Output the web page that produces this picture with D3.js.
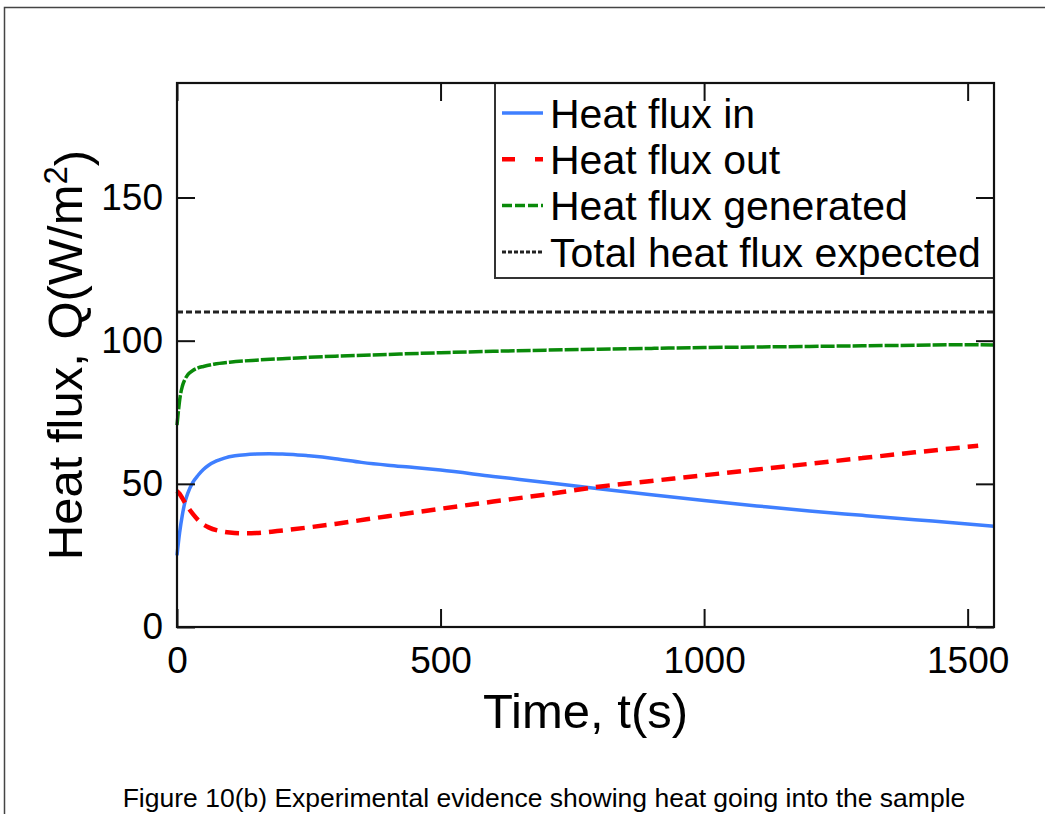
<!DOCTYPE html>
<html>
<head>
<meta charset="utf-8">
<script src="https://cdn.jsdelivr.net/npm/d3@7"></script>
<style>
  body { margin: 0; background: #fff; }
  text { font-family: 'Liberation Sans', Arial, sans-serif; fill: #000; }
</style>
</head>
<body>
<div id="myPlot"></div>
<script>
// values
const tIn = [0, 5, 10, 15, 20, 30, 40, 50, 60, 75, 90, 110, 130, 150, 175, 200, 225, 250, 300, 350, 400, 450, 500, 600, 700, 800, 900, 1000, 1100, 1200, 1300, 1400, 1500, 1550];
const fluxIn = [25, 33, 39, 43.5, 46.5, 50.5, 53, 55, 56.5, 58, 59, 59.8, 60.2, 60.4, 60.5, 60.4, 60.2, 59.8, 58.8, 57.5, 56.5, 55.7, 54.8, 52.6, 50.5, 48.3, 46.2, 44.2, 42.3, 40.5, 39, 37.5, 36, 35.2];

const tOut = [0, 5, 10, 20, 30, 45, 60, 80, 100, 125, 150, 190, 250, 300, 400, 500, 600, 700, 800, 900, 1000, 1100, 1200, 1300, 1400, 1520];
const fluxOut = [47.5, 46.5, 45, 42, 39.5, 36.5, 34.8, 33.6, 33, 32.7, 32.8, 33.5, 34.8, 36, 38.7, 41.3, 43.8, 46.3, 49, 51, 53, 55, 57, 59, 61, 63.3];

const tGen = [0, 3, 6, 10, 15, 20, 30, 40, 50, 70, 100, 150, 200, 300, 400, 500, 600, 700, 800, 900, 1000, 1100, 1200, 1300, 1400, 1500, 1550];
const fluxGen = [70.5, 76, 80.5, 84, 86.5, 88, 89.6, 90.5, 91, 91.8, 92.5, 93.2, 93.7, 94.6, 95.2, 95.8, 96.3, 96.7, 97.0, 97.3, 97.6, 97.8, 98.0, 98.2, 98.4, 98.6, 98.5];

const tExp = [0, 1550];
const fluxExp = [110, 110];

const xTicks = [0, 500, 1000, 1500];
const yTicks = [0, 50, 100, 150];

const seriesNames = ['Heat flux in', 'Heat flux out', 'Heat flux generated', 'Total heat flux expected'];
const caption = 'Figure 10(b) Experimental evidence showing heat going into the sample';

const W = 1045, H = 814;
const margin = {top: 83, right: 51, bottom: 187, left: 177};
const width = W - margin.left - margin.right;
const height = H - margin.top - margin.bottom;

const svgRoot = d3.select('#myPlot')
  .append('svg')
    .attr('width', W)
    .attr('height', H);

// page frame
svgRoot.append('rect')
  .attr('x', 4.5).attr('y', 7.5)
  .attr('width', W + 20).attr('height', H + 20)
  .attr('fill', 'none')
  .attr('stroke', '#444')
  .attr('stroke-width', 1.5);

const svg = svgRoot.append('g')
  .attr('transform', 'translate(' + margin.left + ',' + margin.top + ')');

const x = d3.scaleLinear().domain([0, 1550]).range([0, width]);
const y = d3.scaleLinear().domain([0, 190]).range([height, 0]);

const series = [
  {name: seriesNames[0], t: tIn, v: fluxIn, color: '#3f7fff', dash: null, w: 3.5},
  {name: seriesNames[1], t: tOut, v: fluxOut, color: '#ff0000', dash: '14,8', w: 4.5},
  {name: seriesNames[2], t: tGen, v: fluxGen, color: '#0a8a0a', dash: '14,2', w: 3.5},
  {name: seriesNames[3], t: tExp, v: fluxExp, color: '#222', dash: '6,3', w: 3}
];

const line = d3.line()
  .x(d => x(d[0]))
  .y(d => y(d[1]))
  .curve(d3.curveMonotoneX);

svg.selectAll('path.series')
  .data(series)
  .enter()
  .append('path')
    .attr('class', 'series')
    .attr('d', s => line(s.t.map((t, i) => [t, s.v[i]])))
    .attr('fill', 'none')
    .attr('stroke', s => s.color)
    .attr('stroke-width', s => s.w)
    .attr('stroke-dasharray', s => s.dash);

// Legend
const leg = svg.append('g')
  .attr('transform', 'translate(' + (495 - margin.left) + ',0)');
leg.append('rect')
  .attr('x', 0).attr('y', 0)
  .attr('width', 994 - 495).attr('height', 278 - 83)
  .attr('fill', '#fff')
  .attr('stroke', '#333')
  .attr('stroke-width', 2);

const rows = leg.selectAll('g.row')
  .data(series)
  .enter()
  .append('g')
    .attr('class', 'row')
    .attr('transform', (d, i) => 'translate(0,' + (30 + i * 46.3) + ')');
rows.append('line')
  .attr('x1', 7).attr('x2', 48)
  .attr('stroke', d => d.color)
  .attr('stroke-width', d => d.w)
  .attr('stroke-dasharray', (d, i) => ['', '13,20', '10,3', '4,2'][i]);
rows.append('text')
  .attr('x', 55)
  .attr('dy', '0.36em')
  .style('font-size', '41px')
  .text(d => d.name);

// Axes with inward ticks on all four sides
const axisStyle = g => {
  g.select('.domain').remove();
  g.selectAll('.tick line').attr('stroke', '#111').attr('stroke-width', 2);
  g.selectAll('.tick text').style('font-size', '37px').attr('fill', '#000');
};

svg.append('g')
  .attr('transform', 'translate(0,' + height + ')')
  .call(d3.axisBottom(x).tickValues(xTicks).tickFormat(d3.format('d')).tickSizeInner(-18).tickPadding(20))
  .call(axisStyle);
svg.append('g')
  .call(d3.axisTop(x).tickValues(xTicks).tickFormat('').tickSizeInner(-18))
  .call(axisStyle);
svg.append('g')
  .call(d3.axisLeft(y).tickValues(yTicks).tickFormat(d3.format('d')).tickSizeInner(-18).tickPadding(14))
  .call(axisStyle);
svg.append('g')
  .attr('transform', 'translate(' + width + ',0)')
  .call(d3.axisRight(y).tickValues(yTicks).tickFormat('').tickSizeInner(-18))
  .call(axisStyle);

svg.append('rect')
  .attr('width', width).attr('height', height)
  .attr('fill', 'none')
  .attr('stroke', '#111')
  .attr('stroke-width', 2.2);

// Axis titles
svg.append('text')
  .attr('x', width / 2)
  .attr('y', height + 101)
  .attr('text-anchor', 'middle')
  .style('font-size', '49px')
  .text('Time, t(s)');

const yTitle = svg.append('text')
  .attr('transform', 'translate(' + (82 - margin.left) + ',' + height / 2 + ')rotate(-90)')
  .attr('text-anchor', 'middle')
  .style('font-size', '49px');
yTitle.append('tspan').text('Heat flux,  Q(W/m');
yTitle.append('tspan').attr('dy', '-0.45em').style('font-size', '33px').text('2');
yTitle.append('tspan').attr('dy', '0.45em').text(')');

svgRoot.append('text')
  .attr('x', 544)
  .attr('y', 807)
  .attr('text-anchor', 'middle')
  .style('font-size', '26.5px')
  .text(caption);
</script>
</body>
</html>
